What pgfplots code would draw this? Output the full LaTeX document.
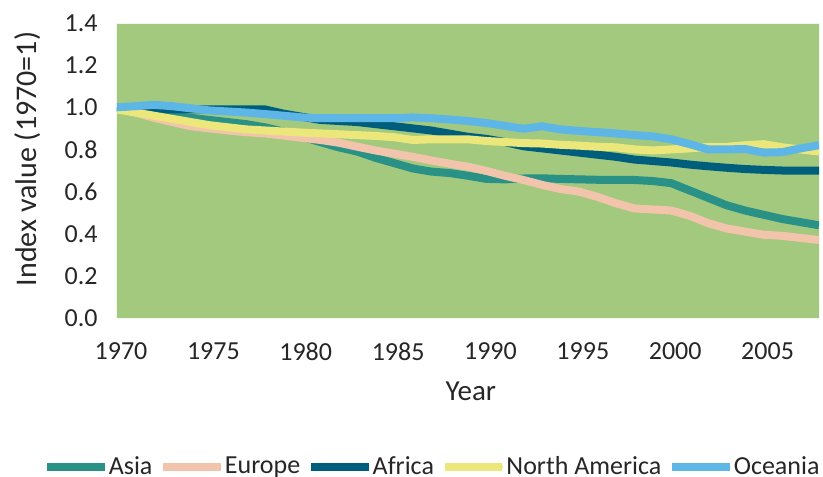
\documentclass[border=0pt]{standalone}
\usepackage{fontspec}
\setmainfont{Carlito}
\usepackage{pgfplots}
\pgfplotsset{compat=1.18}
\usepackage{pgfplotstable}
\definecolor{bg}{RGB}{163,201,126}
\definecolor{asia}{HTML}{2A9187}
\definecolor{europe}{HTML}{F2C4AC}
\definecolor{africa}{HTML}{005E7D}
\definecolor{namerica}{HTML}{ECE77B}
\definecolor{oceania}{HTML}{5DB6E6}
\definecolor{txt}{HTML}{262626}
\pgfplotstableread{
year asia europe africa namerica oceania
1970 1.000 1.000 1.000 0.990 1.000
1971 0.985 0.975 0.990 0.975 1.005
1972 0.970 0.950 0.990 0.960 1.012
1973 0.960 0.930 0.990 0.945 1.005
1974 0.950 0.910 0.990 0.930 0.995
1975 0.940 0.900 0.990 0.915 0.985
1976 0.930 0.890 0.990 0.905 0.980
1977 0.920 0.882 0.990 0.895 0.975
1978 0.905 0.876 0.990 0.890 0.968
1979 0.885 0.866 0.970 0.885 0.960
1980 0.860 0.855 0.955 0.880 0.952
1981 0.835 0.845 0.940 0.876 0.948
1982 0.810 0.832 0.935 0.872 0.948
1983 0.790 0.813 0.930 0.868 0.948
1984 0.760 0.795 0.920 0.864 0.948
1985 0.735 0.780 0.910 0.858 0.948
1986 0.710 0.765 0.900 0.845 0.952
1987 0.695 0.748 0.890 0.848 0.948
1988 0.688 0.732 0.875 0.848 0.942
1989 0.675 0.718 0.860 0.848 0.935
1990 0.660 0.698 0.850 0.840 0.925
1991 0.658 0.675 0.835 0.835 0.912
1992 0.662 0.655 0.815 0.830 0.898
1993 0.663 0.632 0.805 0.828 0.910
1994 0.660 0.612 0.795 0.822 0.895
1995 0.658 0.600 0.785 0.818 0.888
1996 0.656 0.575 0.775 0.813 0.882
1997 0.655 0.545 0.765 0.810 0.876
1998 0.655 0.520 0.752 0.800 0.868
1999 0.650 0.515 0.745 0.795 0.862
2000 0.640 0.510 0.738 0.800 0.848
2001 0.605 0.485 0.728 0.805 0.825
2002 0.570 0.450 0.720 0.812 0.800
2003 0.535 0.425 0.713 0.812 0.800
2004 0.510 0.410 0.707 0.820 0.802
2005 0.490 0.395 0.703 0.825 0.785
2006 0.470 0.390 0.700 0.810 0.787
2007 0.455 0.380 0.700 0.800 0.805
2008 0.440 0.370 0.700 0.790 0.820
}\datatable
\begin{document}
\begin{tikzpicture}
\begin{axis}[
  at={(0,0)}, anchor=south west,
  scale only axis,
  width=351pt, height=147.5pt,
  xmin=1970, xmax=2008, ymin=0, ymax=1.4,
  xtick={1970,1975,...,2005},
  ytick={0,0.2,...,1.4},
  major tick length=0pt,
  axis line style={draw=none},
  axis background/.style={fill=bg, draw=white!85!bg, line width=0.5pt},
  /pgf/number format/assume math mode=true,
  x tick label style={/pgf/number format/set thousands separator={}, anchor=north, inner sep=0pt, yshift=-12pt, xshift=2pt},
  y tick label style={/pgf/number format/fixed, /pgf/number format/fixed zerofill, /pgf/number format/precision=1, anchor=east, inner sep=0pt, xshift=-9.5pt},
  tick label style={font=\fontsize{13}{15}\selectfont, text=txt},
  xlabel={Year},
  ylabel={Index value (1970=1)},
  xlabel style={font=\fontsize{14.5}{16}\selectfont, text=txt, at={(axis description cs:0.504,-0.247)}, anchor=center, inner sep=0pt},
  ylabel style={font=\fontsize{15}{17}\selectfont, text=txt, at={(axis description cs:-0.128,0.539)}, anchor=center, inner sep=0pt},
  legend columns=5,
  legend style={draw=none, fill=none, inner sep=0pt, outer sep=0pt,
    at={(axis description cs:-0.105,-0.505)}, anchor=west,
    font=\fontsize{13}{15}\selectfont, text=txt,
    nodes={inner sep=0pt},
    /tikz/every even column/.append style={column sep=3.5pt}},
  legend image code/.code={\path (0pt,0pt) -- (28.75pt,0pt);\draw[#1, line width=3.5pt, line cap=round] (1.75pt,0pt) -- (27.25pt,0pt);},
  every axis plot/.append style={line width=4pt, line join=round, no markers},
]
\addplot[asia] table[x=year, y=asia] {\datatable};
\addlegendentry{Asia}
\addplot[europe] table[x=year, y=europe] {\datatable};
\addlegendentry{Europe}
\addplot[africa] table[x=year, y=africa] {\datatable};
\addlegendentry{Africa}
\addplot[namerica] table[x=year, y=namerica] {\datatable};
\addlegendentry{North America}
\addplot[oceania] table[x=year, y=oceania] {\datatable};
\addlegendentry{Oceania}
\end{axis}
\pgfresetboundingbox
\path[use as bounding box] (-58.5pt,-79pt) rectangle (353pt,159pt);
\end{tikzpicture}
\end{document}
